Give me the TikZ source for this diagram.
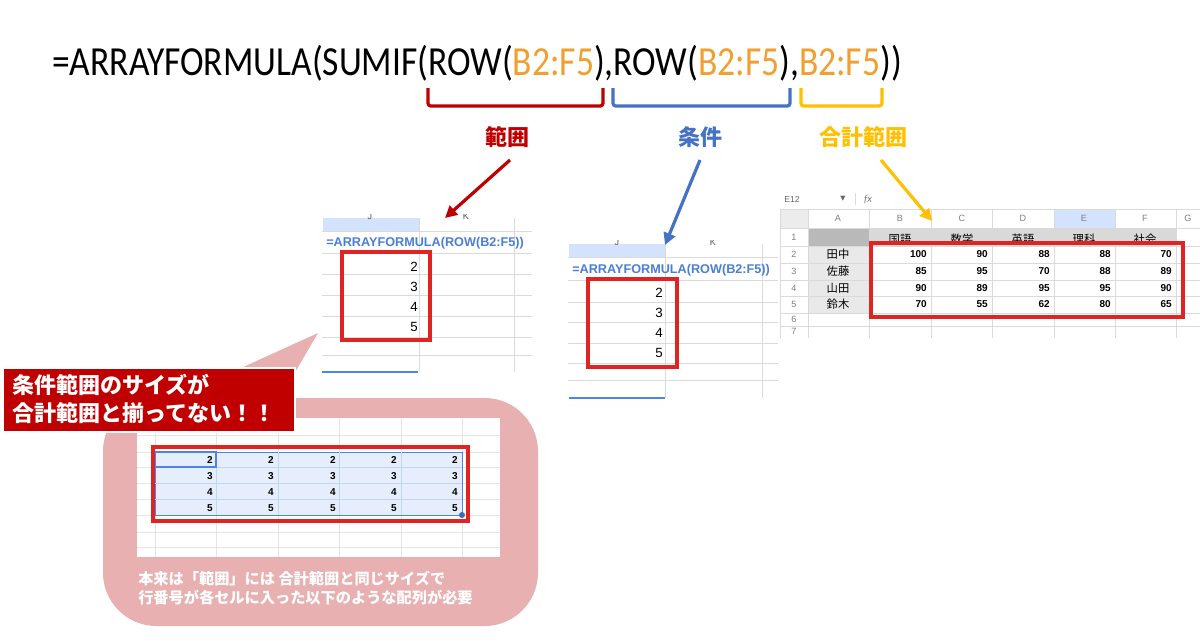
\documentclass[tikz,border=0pt]{standalone}
\usepackage{fontspec}
\usetikzlibrary{arrows.meta}
\setmainfont{Carlito}
\newfontfamily\jp{Noto Sans CJK JP}
\newfontfamily\arial{Liberation Sans}
\newfontfamily\dejavu{DejaVu Sans}
\definecolor{fred}{HTML}{C00000}
\definecolor{fblue}{HTML}{4472C4}
\definecolor{fyel}{HTML}{FFC000}
\definecolor{forange}{HTML}{F0A030}
\definecolor{sred}{HTML}{E02424}
\definecolor{sblue}{HTML}{4A7FD6}
\definecolor{hdrblue}{HTML}{D3E3FD}
\definecolor{grid}{HTML}{DADADA}
\definecolor{pink}{HTML}{E8B0B0}
\definecolor{selfill}{HTML}{E6EEFB}
\definecolor{selline}{HTML}{4A86E8}
\tikzset{
  bracket/.style={line width=2.4pt, line join=round, rounded corners=2pt},
  arr/.style={line width=2.4pt, -{Triangle[length=9pt,width=9pt]}},
  lbl/.style={font=\jp\bfseries\fontsize{16.5}{18}\selectfont, inner sep=0},
  gridline/.style={draw=grid, line width=0.5pt},
  redbox/.style={draw=sred, line width=2.6pt},
  num/.style={font=\arial\fontsize{10}{10}\selectfont, anchor=east, inner sep=0},
  bnum/.style={font=\arial\bfseries\fontsize{7.5}{8}\selectfont, anchor=east, inner sep=0},
  hdr/.style={font=\arial\fontsize{6.8}{7}\selectfont, text=gray, inner sep=0},
  jcell/.style={font=\jp\fontsize{8.5}{9}\selectfont, inner sep=0},
  sfx/.style={font=\arial\bfseries\fontsize{9.5}{10}\selectfont, text=sblue, anchor=west, inner sep=0},
}
\begin{document}
\begin{tikzpicture}[x=0.75pt,y=-0.75pt]
\useasboundingbox[fill=white] (0,0) rectangle (1200,640);

% formula
\node[anchor=base west, inner sep=0, font=\fontsize{31}{31}\selectfont] (formula) at (52,75)
 {\scalebox{0.86}[1]{=ARRAYFORMULA(SUMIF(ROW(\textcolor{forange}{B2:F5}),ROW(\textcolor{forange}{B2:F5}),\textcolor{forange}{B2:F5}))}};

% brackets
\draw[bracket, fred] (428,88) -- (428,106) -- (603,106) -- (603,88);
\draw[bracket, fblue] (613,88) -- (613,106) -- (790,106) -- (790,88);
\draw[bracket, fyel] (801,88) -- (801,106) -- (882,106) -- (882,88);

% labels
\node[lbl, text=fred] (lhan) at (507,137) {範囲};
\node[lbl, text=fblue] (ljou) at (700,137) {条件};
\node[lbl, text=fyel] (lgou) at (863,137) {合計範囲};

% ---------- left sheet ----------
\begin{scope}
\clip (322,214) rectangle (532,376);
\fill[hdrblue] (323,218) rectangle (419,231);
\node[hdr, text=gray!70!black] (lj) at (370,216) {J};
\node[hdr, text=gray!70!black] (lk) at (466,216) {K};
\end{scope}
\foreach \yy in {231,253,274,295,316,337,355}{\draw[gridline] (322,\yy) -- (532,\yy);}
\draw[gridline] (419,218) -- (419,372);
\draw[gridline] (514,218) -- (514,372);
\draw[selline, line width=1pt] (322,372) -- (418,372);
\node[sfx] (lform) at (326,243) {=ARRAYFORMULA(ROW(B2:F5))};
\node[num] (l2) at (418,267) {2};
\node[num] (l3) at (418,287) {3};
\node[num] (l4) at (418,307) {4};
\node[num] (l5) at (418,327) {5};
\draw[redbox] (342,252) rectangle (430,340);

% ---------- middle sheet ----------
\begin{scope}
\clip (568,240) rectangle (778,402);
\fill[hdrblue] (569,244) rectangle (665,257);
\node[hdr, text=gray!70!black] (mj) at (617,242) {J};
\node[hdr, text=gray!70!black] (mk) at (713,242) {K};
\end{scope}
\foreach \yy in {257,280,302,322,343,363,380}{\draw[gridline] (568,\yy) -- (778,\yy);}
\draw[gridline] (665,244) -- (665,398);
\draw[gridline] (762,244) -- (762,398);
\draw[selline, line width=1pt] (569,398) -- (665,398);
\node[sfx] (mform) at (572,270) {=ARRAYFORMULA(ROW(B2:F5))};
\node[num] (m2) at (663,293) {2};
\node[num] (m3) at (663,313) {3};
\node[num] (m4) at (663,333) {4};
\node[num] (m5) at (663,353) {5};
\draw[redbox] (588,279) rectangle (677,367);

% ---------- right sheet ----------
\node[font=\arial\fontsize{6.5}{7}\selectfont, text=gray!80!black, anchor=west, inner sep=0] (e12) at (784,199) {E12};
\node[font=\dejavu\fontsize{5}{5}\selectfont, text=gray!80!black, inner sep=0] (dd) at (843,199) {▼};
\draw[grid] (855,193) -- (855,205);
\node[font=\fontsize{8}{8}\selectfont\itshape, text=gray, inner sep=0] (fx) at (868,199) {fx};
\fill[gray!15] (780,209) rectangle (808,228);
\fill[hdrblue] (1054,209) rectangle (1115,228);
\fill[gray!55] (808,228) rectangle (869,246);
\fill[gray!30] (869,228) rectangle (1176,246);
\fill[gray!17] (808,246) rectangle (869,313);
\foreach \xx in {780,808,869,931,992,1054,1115,1176}{\draw[gridline] (\xx,209) -- (\xx,338);}
\foreach \yy in {209,228,246,263,280,296,313,326}{\draw[gridline] (780,\yy) -- (1200,\yy);}
\foreach \c/\cx in {A/838,B/900,C/962,D/1023,E/1084,F/1145,G/1188}{\node[hdr] (h\c) at (\cx,218) {\c};}
\foreach \r/\ry in {1/237,2/254,3/271,4/288,5/304,6/319,7/331}{\node[hdr] (r\r) at (794,\ry) {\r};}
\foreach \s/\sx [count=\i] in {国語/900,数学/962,英語/1023,理科/1084,社会/1145}{\node[jcell] (s\i) at (\sx,239) {\s};}
\foreach \n/\ny [count=\i] in {田中/254,佐藤/271,山田/288,鈴木/304}{\node[jcell] (n\i) at (838,\ny) {\n};}
\foreach \a/\b/\c/\d/\e/\ny [count=\i] in {100/90/88/88/70/254, 85/95/70/88/89/271, 90/89/95/95/90/288, 70/55/62/80/65/304}{
  \node[bnum] (d\i b) at (927,\ny) {\a};
  \node[bnum] (d\i c) at (988,\ny) {\b};
  \node[bnum] (d\i d) at (1050,\ny) {\c};
  \node[bnum] (d\i e) at (1111,\ny) {\d};
  \node[bnum] (d\i f) at (1172,\ny) {\e};
}
\draw[redbox] (871,243) rectangle (1183,317);

% arrows
\coordinate (tl) at (445,218);
\coordinate (tm) at (665,245);
\coordinate (tr) at (932,221);
\coordinate (sl) at (510,160);
\coordinate (sm) at (700,160);
\coordinate (sr) at (881,160);
\draw[arr, fred] (sl) -- (tl);
\draw[arr, fblue] (sm) -- (tm);
\draw[arr, fyel] (sr) -- (tr);

% ---------- callout ----------
\fill[pink] (175,398) -- (318,333) -- (280,398) -- cycle;
\fill[pink, rounded corners=40pt] (103,398) rectangle (538,626);
\fill[white] (137,418) rectangle (500,557);
\foreach \yy in {435,452,467,483,499,515,532,547}{\draw[gridline, draw=grid!70] (137,\yy) -- (500,\yy);}
\foreach \xx in {155,216,278,339,401,462}{\draw[gridline, draw=grid!70] (\xx,418) -- (\xx,557);}
\filldraw[fill=selfill, draw=selline, line width=0.6pt] (155,452) rectangle (462,515);
\foreach \yy in {467,483,499}{\draw[draw=selline!35, line width=0.4pt] (155,\yy) -- (462,\yy);}
\foreach \xx in {216,278,339,401}{\draw[draw=selline!35, line width=0.4pt] (\xx,452) -- (\xx,515);}
\draw[selline, line width=1.2pt] (155,452) rectangle (216,467);
\foreach \v/\vy in {2/460,3/476,4/492,5/508}{
  \foreach \xx [count=\k] in {213,274,336,397,458}{\node[bnum] (c\v\k) at (\xx,\vy) {\v};}
}
\draw[redbox] (153,447) rectangle (468,521);
\fill[selline!80!black] (462,515) circle (3);
\node[font=\jp\bfseries\fontsize{11.4}{13}\selectfont, text=white, anchor=west, inner sep=0] (note1) at (138,579) {本来は「範囲」には 合計範囲と同じサイズで};
\node[font=\jp\bfseries\fontsize{11.4}{13}\selectfont, text=white, anchor=west, inner sep=0] (note2) at (138,598) {行番号が各セルに入った以下のような配列が必要};

% red label
\filldraw[fill=fred, draw=white, line width=0.8pt] (3,368) rectangle (295,432);
\node[font=\jp\bfseries\fontsize{16.5}{18}\selectfont, text=white, anchor=west, inner sep=0] (w1) at (12,385) {条件範囲のサイズが};
\node[font=\jp\bfseries\fontsize{16.5}{18}\selectfont, text=white, anchor=west, inner sep=0] (w2) at (12,413) {合計範囲と揃ってない！！};
\end{tikzpicture}
\end{document}
